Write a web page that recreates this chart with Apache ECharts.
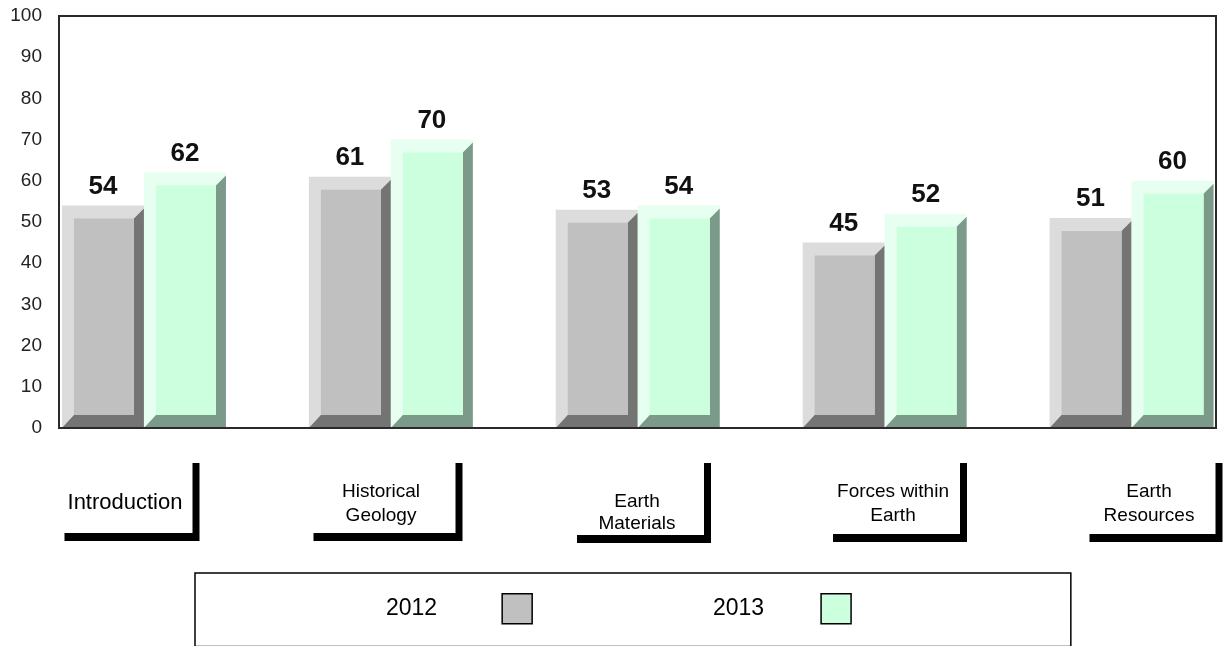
<!DOCTYPE html>
<html>
<head>
<meta charset="utf-8">
<script src="https://cdn.jsdelivr.net/npm/echarts@6/dist/echarts.min.js"></script>
<style>
html,body{margin:0;padding:0;background:#fff;}
#chart{width:1223px;height:646px;}
</style>
</head>
<body>
<div id="chart"></div>
<script>
// ---- data ----
const categories = ['Introduction', 'Historical\nGeology', 'Earth\nMaterials', 'Forces within\nEarth', 'Earth\nResources'];
const seriesNames = ['2012', '2013'];
const values2012 = [54, 61, 53, 45, 51];
const values2013 = [62, 70, 54, 52, 60];
const yTicks = [0, 10, 20, 30, 40, 50, 60, 70, 80, 90, 100];

// ---- styles ----
const FONT = 'Arial, "Liberation Sans", sans-serif';
const palettes = [
  { light: '#dcdcdc', face: '#c0c0c0', dark: '#747474' },
  { light: '#e6fff0', face: '#ccffdd', dark: '#7b9a89' }
];
const labelBoxStyles = [
  { fontSize: 22, lineHeight: 24, padding: [36, 0, 18, 0], width: 135 },
  { fontSize: 19, lineHeight: 24, padding: [25, 0, 5, 0], width: 149 },
  { fontSize: 19, lineHeight: 22, padding: [36, 0, 0, 0], width: 134 },
  { fontSize: 19, lineHeight: 24, padding: [25, 0, 6, 0], width: 134 },
  { fontSize: 19, lineHeight: 24, padding: [25, 0, 6, 0], width: 133 }
];
const legendGaps = [60, 52];

const chart = echarts.init(document.getElementById('chart'), null, { renderer: 'canvas' });

function renderBevelBar(params, api) {
  const idx = api.value(0);
  const v = api.value(1);
  const base = api.coord([idx, 0]);
  const top = api.coord([idx, v]);
  const s = params.seriesIndex;
  const pal = palettes[s];
  const W = 82;
  const x0 = base[0] + (s === 0 ? -W : 0);
  const x1 = x0 + W;
  const yT = top[1], yB = base[1];
  const L = 12, R = 10, T = 13, B = 13;
  return {
    type: 'group',
    children: [
      { type: 'rect', shape: { x: x0, y: yT, width: W, height: yB - yT }, style: { fill: pal.light } },
      { type: 'polygon', shape: { points: [[x1, yT + 3], [x1, yB], [x0, yB], [x0 + L, yB - B], [x1 - R, yB - B], [x1 - R, yT + T]] }, style: { fill: pal.dark } },
      { type: 'rect', shape: { x: x0 + L, y: yT + T, width: W - L - R, height: Math.max(0, yB - B - yT - T) }, style: { fill: pal.face } },
      { type: 'text', style: { text: String(v), x: (x0 + x1) / 2, y: yT - 6, align: 'center', verticalAlign: 'bottom', font: 'bold 26px ' + FONT, fill: '#111' } }
    ]
  };
}

const gridTop = 16, gridBottom = 218;

const option = {
  animation: false,
  backgroundColor: '#fff',
  grid: [
    { left: 59, right: 7, top: gridTop, bottom: gridBottom, show: true, borderColor: '#2a2a2a', borderWidth: 2, backgroundColor: 'transparent' },
    { left: 20.5, width: 1234.5, top: gridTop, bottom: gridBottom, outerBoundsMode: 'none' },
    { left: -3, width: 1280, top: gridTop, bottom: gridBottom, outerBoundsMode: 'none' }
  ],
  xAxis: [
    { gridIndex: 0, type: 'category', data: categories, z: 5,
      axisLine: { show: true, lineStyle: { color: '#2a2a2a', width: 2 } },
      axisTick: { show: false }, axisLabel: { show: false }, splitLine: { show: false } },
    { gridIndex: 1, type: 'category', data: categories,
      axisLine: { show: false }, axisTick: { show: false }, axisLabel: { show: false }, splitLine: { show: false } },
    { gridIndex: 2, type: 'category',
      data: categories.map((c, i) => ({ value: c, textStyle: labelBoxStyles[i] })),
      axisLine: { show: false }, axisTick: { show: false }, splitLine: { show: false },
      axisLabel: {
        show: true, interval: 0, margin: 27, align: 'center',
        fontFamily: FONT, color: '#000',
        backgroundColor: '#fff',
        shadowColor: '#000', shadowBlur: 0, shadowOffsetX: 7, shadowOffsetY: 8
      } }
  ],
  yAxis: [
    { gridIndex: 0, type: 'value', min: yTicks[0], max: yTicks[yTicks.length - 1], interval: yTicks[1] - yTicks[0],
      axisLine: { show: true, lineStyle: { color: '#2a2a2a', width: 2 } }, axisTick: { show: false }, splitLine: { show: false },
      axisLabel: { margin: 17, fontSize: 19, fontFamily: FONT, color: '#222' } },
    { gridIndex: 1, type: 'value', min: 0, max: 100, show: false, splitLine: { show: false } },
    { gridIndex: 2, type: 'value', min: 0, max: 100, show: false, splitLine: { show: false } }
  ],
  legend: {
    data: seriesNames.map((n, i) => ({ name: n, textStyle: { padding: [0, legendGaps[i], 0, 0] } })),
    selectedMode: false,
    left: 195, top: 573,
    padding: [20, 219, 22, 191],
    borderColor: '#000', borderWidth: 1.5,
    align: 'right',
    itemWidth: 30, itemHeight: 30, itemGap: 180,
    icon: 'rect',
    itemStyle: { borderColor: '#000', borderWidth: 1.5 },
    textStyle: { fontSize: 23, fontFamily: FONT, color: '#000' }
  },
  series: [
    { name: seriesNames[0], type: 'custom', xAxisIndex: 1, yAxisIndex: 1, renderItem: renderBevelBar,
      itemStyle: { color: palettes[0].face }, encode: { x: 0, y: 1 },
      data: values2012.map((v, i) => [i, v]) },
    { name: seriesNames[1], type: 'custom', xAxisIndex: 1, yAxisIndex: 1, renderItem: renderBevelBar,
      itemStyle: { color: palettes[1].face }, encode: { x: 0, y: 1 },
      data: values2013.map((v, i) => [i, v]) }
  ]
};
chart.setOption(option);
</script>
</body>
</html>
